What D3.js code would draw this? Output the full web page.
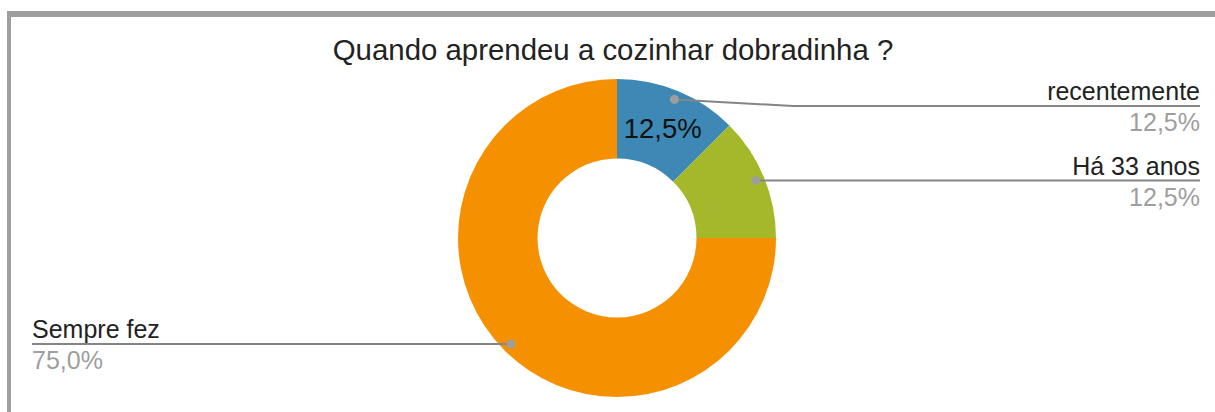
<!DOCTYPE html>
<html>
<head>
<meta charset="utf-8">
<script src="https://cdn.jsdelivr.net/npm/d3@7"></script>
<style>
  html, body { margin: 0; padding: 0; background: #fff; }
  svg { display: block; font-family: "Liberation Sans", Arial, sans-serif; }
</style>
</head>
<body>
<div id="chart"></div>
<script>
"use strict";
const width = 1215, height = 412;

const categories = ["recentemente", "Há 33 anos", "Sempre fez"];
const values = [1, 1, 6];
const sliceColors = ["#3d88b4", "#a5b82a", "#f59100"];
const insideLabel = [true, false, false];
const titleText = "Quando aprendeu a cozinhar dobradinha ?";

const cx = 617, cy = 238;
const outerR = 159, innerR = 79.5;
const dotR = 150;
const labelTop = 106;

const fmt = v => (v * 100).toFixed(1).replace(".", ",") + "%";

var svg = d3.select("#chart")
    .append("svg")
    .attr("width", width)
    .attr("height", height);

// frame
svg.append("rect").attr("x", 7).attr("y", 11).attr("width", width).attr("height", 6).attr("fill", "#9e9e9e");
svg.append("rect").attr("x", 7).attr("y", 11).attr("width", 4).attr("height", height).attr("fill", "#9e9e9e");

svg.append("text")
    .attr("x", 613)
    .attr("y", 60)
    .attr("text-anchor", "middle")
    .attr("font-size", 29.4)
    .attr("fill", "#222")
    .text(titleText);

const total = d3.sum(values);
const data = categories.map((c, i) => ({
    name: c, value: values[i], color: sliceColors[i], inside: insideLabel[i]
}));

const pie = d3.pie().value(d => d.value).sort(null);
const arc = d3.arc().innerRadius(innerR).outerRadius(outerR);
const dotArc = d3.arc().innerRadius(dotR).outerRadius(dotR);
const arcs = pie(data);

const g = svg.append("g").attr("transform", `translate(${cx},${cy})`);

g.selectAll("path.slice")
    .data(arcs)
    .enter()
    .append("path")
    .attr("class", "slice")
    .attr("d", arc)
    .attr("fill", d => d.data.color);

g.selectAll("text.inside")
    .data(arcs.filter(d => d.data.inside))
    .enter()
    .append("text")
    .attr("class", "inside")
    .attr("transform", d => `translate(${arc.centroid(d)})`)
    .attr("text-anchor", "middle")
    .attr("dy", "0.36em")
    .attr("font-size", 27.5)
    .attr("fill", "#111")
    .text(d => fmt(d.data.value / total));

// leader lines + labels
arcs.forEach(function (d) {
    const p = dotArc.centroid(d);
    const dx = cx + p[0], dy = cy + p[1];
    const right = p[0] >= 0;
    const lineY = Math.max(dy, labelTop);
    const elbowX = right ? cx + outerR + 17 : cx - outerR - 17;
    const endX = right ? 1200 : 32;

    svg.append("polyline")
        .attr("points", [[dx, dy], [elbowX, lineY], [endX, lineY]].map(q => q.join(",")).join(" "))
        .attr("fill", "none")
        .attr("stroke", "#858585")
        .attr("stroke-width", 2);

    svg.append("circle")
        .attr("cx", dx)
        .attr("cy", dy)
        .attr("r", 4.5)
        .attr("fill", "#9e9e9e");

    const anchor = right ? "end" : "start";
    svg.append("text")
        .attr("x", endX)
        .attr("y", lineY - 6)
        .attr("text-anchor", anchor)
        .attr("font-size", 25)
        .attr("fill", "#222")
        .text(d.data.name);
    svg.append("text")
        .attr("x", endX)
        .attr("y", lineY + 25)
        .attr("text-anchor", anchor)
        .attr("font-size", 25)
        .attr("fill", "#9e9e9e")
        .text(fmt(d.data.value / total));
});
</script>
</body>
</html>
